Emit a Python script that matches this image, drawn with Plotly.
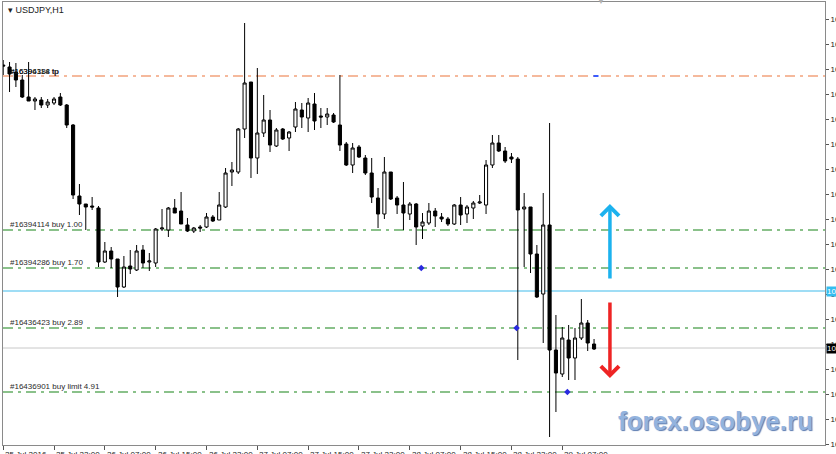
import plotly.graph_objects as go

# USDJPY H1 bars
bar_open = [106.29, 106.27, 106.22, 106.14, 105.97, 105.93, 105.94, 105.89, 105.91, 105.97,
            105.89, 105.69, 104.98, 104.90, 104.88, 104.86, 104.32, 104.43, 104.35, 104.07,
            104.28, 104.24, 104.44, 104.32, 104.31, 104.65, 104.64, 104.86, 104.83, 104.69,
            104.63, 104.67, 104.67, 104.77, 104.74, 104.87, 105.22, 105.22, 105.65, 106.12,
            105.36, 105.61, 105.74, 105.48, 105.65, 105.56, 105.67, 105.84, 105.76, 105.90,
            105.78, 105.77, 105.79, 105.69, 105.50, 105.29, 105.47, 105.36, 105.21, 104.96,
            104.80, 105.22, 104.96, 104.89, 104.80, 104.90, 104.68, 104.71, 104.83, 104.77,
            104.75, 104.70, 104.89, 104.80, 104.86, 104.91, 104.89, 105.29, 105.51, 105.43,
            105.37, 105.35, 104.85, 104.87, 104.40, 104.00, 104.69, 103.44, 103.20, 103.54,
            103.36, 103.56, 103.71, 103.50]
bar_high = [106.34, 106.32, 106.31, 106.19, 106.32, 105.97, 105.97, 105.95, 105.97, 106.01,
            105.90, 105.70, 105.10, 104.90, 104.97, 104.88, 104.52, 104.47, 104.35, 104.38,
            104.44, 104.49, 104.49, 104.41, 104.66, 104.85, 104.87, 104.95, 105.02, 104.76,
            104.67, 104.69, 104.81, 104.79, 105.02, 105.26, 105.32, 105.66, 106.71, 106.12,
            106.26, 105.99, 105.84, 105.66, 105.66, 105.63, 105.92, 105.91, 105.96, 106.01,
            105.86, 105.86, 105.81, 106.19, 105.52, 105.51, 105.49, 105.39, 105.36, 105.06,
            105.37, 105.22, 104.98, 105.12, 104.92, 104.91, 104.81, 104.91, 104.86, 104.81,
            104.77, 104.90, 104.97, 104.89, 104.93, 104.99, 105.34, 105.59, 105.59, 105.47,
            105.41, 105.37, 105.01, 104.87, 104.49, 105.01, 105.71, 103.79, 103.67, 103.69,
            103.66, 103.95, 103.74, 103.55]
bar_low = [106.19, 106.02, 106.07, 105.96, 105.93, 105.84, 105.86, 105.86, 105.89, 105.88,
           105.66, 104.95, 104.79, 104.64, 104.84, 104.27, 104.31, 104.26, 103.97, 104.06,
           104.20, 104.23, 104.26, 104.23, 104.27, 104.63, 104.57, 104.81, 104.70, 104.62,
           104.61, 104.62, 104.66, 104.72, 104.74, 104.86, 105.08, 105.20, 105.56, 105.16,
           105.20, 105.57, 105.42, 105.47, 105.54, 105.43, 105.62, 105.66, 105.62, 105.64,
           105.66, 105.69, 105.71, 105.43, 105.28, 105.21, 105.36, 105.19, 104.91, 104.66,
           104.75, 104.94, 104.80, 104.64, 104.74, 104.49, 104.55, 104.69, 104.67, 104.72,
           104.68, 104.69, 104.69, 104.71, 104.75, 104.90, 104.80, 105.26, 105.42, 105.31,
           105.31, 103.34, 104.27, 104.21, 103.96, 103.51, 102.57, 102.82, 103.17, 103.14,
           103.14, 103.54, 103.43, 103.44]
bar_close = [106.28, 106.20, 106.14, 105.97, 105.93, 105.95, 105.89, 105.92, 105.95, 105.89,
             105.69, 104.99, 104.90, 104.87, 104.87, 104.32, 104.43, 104.35, 104.07, 104.27,
             104.25, 104.43, 104.31, 104.33, 104.65, 104.66, 104.86, 104.81, 104.70, 104.63,
             104.66, 104.66, 104.77, 104.73, 104.89, 105.21, 105.24, 105.65, 106.11, 105.36,
             105.61, 105.74, 105.49, 105.64, 105.55, 105.62, 105.85, 105.77, 105.91, 105.73,
             105.77, 105.80, 105.72, 105.49, 105.29, 105.46, 105.37, 105.21, 104.97, 104.80,
             105.22, 104.95, 104.89, 104.81, 104.90, 104.67, 104.72, 104.83, 104.78, 104.75,
             104.70, 104.89, 104.79, 104.87, 104.91, 104.92, 105.29, 105.51, 105.43, 105.33,
             105.35, 104.84, 104.87, 104.40, 103.97, 104.69, 103.44, 103.21, 103.56, 103.36,
             103.56, 103.71, 103.51, 103.45]
bar_index = list(range(len(bar_open)))

time_tick_bars = [0, 8, 16, 24, 32, 40, 48, 56, 64, 72, 80, 88]
time_tick_labels = ["25 Jul 2016", "25 Jul 22:00", "26 Jul 07:00", "26 Jul 15:00",
                    "26 Jul 23:00", "27 Jul 07:00", "27 Jul 15:00", "27 Jul 23:00",
                    "28 Jul 07:00", "28 Jul 15:00", "28 Jul 23:00", "29 Jul 07:00"]

# order levels
tp_level = 106.18
tp_labels = ["#16394114 tp", "#16396388 tp"]
order_levels = [104.64, 104.26, 103.66, 103.02]
order_labels = ["#16394114 buy 1.00", "#16394286 buy 1.70",
                "#16436423 buy 2.89", "#16436901 buy limit 4.91"]
entry_bars = [65.8, 80.8, 88.8]
entry_prices = [104.26, 103.66, 103.02]
tp_mark_bars = [92.9, 93.7]
cyan_level = 104.03
bid_price = 103.46

arrow_bar = 95.5
up_arrow = (104.14, 104.90)
down_arrow = (103.93, 103.16)

FONT = "Liberation Sans"
GREEN = "#64ad64"
DASH = "10px,5px,3px,5px"

fig = go.Figure()

fig.add_trace(go.Candlestick(
    x=bar_index, open=bar_open, high=bar_high, low=bar_low, close=bar_close,
    increasing=dict(line=dict(color="black", width=1), fillcolor="white"),
    decreasing=dict(line=dict(color="black", width=1), fillcolor="black"),
    whiskerwidth=0, showlegend=False, hoverinfo="skip"
))

fig.add_trace(go.Scatter(
    x=entry_bars, y=entry_prices, mode="markers",
    marker=dict(symbol="diamond", size=5, color="#2a2ae0"),
    showlegend=False, hoverinfo="skip"
))
fig.add_trace(go.Scatter(
    x=tp_mark_bars, y=[tp_level, tp_level], mode="lines",
    line=dict(color="#3a5cff", width=2), showlegend=False, hoverinfo="skip"
))

fig.add_hline(y=tp_level, line=dict(color="#f2a27c", width=1.3, dash=DASH), layer="below")
for lvl in order_levels:
    fig.add_hline(y=lvl, line=dict(color=GREEN, width=1.3, dash=DASH), layer="below")
fig.add_hline(y=cyan_level, line=dict(color="#7fd2f2", width=1.5), layer="below")
fig.add_hline(y=bid_price, line=dict(color="#c8c8c8", width=1), layer="below")

annotations = []
for lbl in tp_labels:
    annotations.append(dict(
        x=0, xref="paper", y=tp_level, yref="y", text=lbl, showarrow=False,
        xanchor="left", yanchor="bottom", xshift=5, yshift=-2,
        font=dict(family=FONT, size=8, color="#111111")
    ))
for lvl, lbl in zip(order_levels, order_labels):
    annotations.append(dict(
        x=0, xref="paper", y=lvl, yref="y", text=lbl, showarrow=False,
        xanchor="left", yanchor="bottom", xshift=5, yshift=-1,
        font=dict(family=FONT, size=8, color="#2a2a2a")
    ))
for b, lbl in zip(time_tick_bars, time_tick_labels):
    annotations.append(dict(
        x=b, xref="x", y=0, yref="paper", text=lbl, showarrow=False,
        xanchor="left", yanchor="top", xshift=0, yshift=-3,
        font=dict(family=FONT, size=8, color="#222222")
    ))

# price boxes on the right scale
annotations.append(dict(
    x=1, xref="paper", y=cyan_level, yref="y", text=f"{cyan_level:.3f}",
    showarrow=False, xanchor="left", xshift=1, bgcolor="#35bdf0",
    font=dict(family=FONT, size=8, color="white"), borderpad=0
))
annotations.append(dict(
    x=1, xref="paper", y=bid_price, yref="y", text=f"{bid_price:.3f}",
    showarrow=False, xanchor="left", xshift=1, bgcolor="black",
    font=dict(family=FONT, size=8, color="white"), borderpad=0
))

# big trade arrows
annotations.append(dict(
    x=arrow_bar, y=up_arrow[1], ax=arrow_bar, ay=up_arrow[0], xref="x", yref="y",
    axref="x", ayref="y", showarrow=True, arrowhead=4, arrowsize=1,
    arrowwidth=3.5, arrowcolor="#1cb2ee", text=""
))
annotations.append(dict(
    x=arrow_bar, y=down_arrow[1], ax=arrow_bar, ay=down_arrow[0], xref="x", yref="y",
    axref="x", ayref="y", showarrow=True, arrowhead=4, arrowsize=1,
    arrowwidth=3.5, arrowcolor="#ee2424", text=""
))

# header and decorations
annotations.append(dict(
    x=0, xref="paper", y=1, yref="paper", text="▾ USDJPY,H1", showarrow=False,
    xanchor="left", yanchor="top", xshift=3, yshift=-1,
    font=dict(family=FONT, size=9, color="#222222")
))
annotations.append(dict(
    x=0.7275, xref="paper", y=1, yref="paper", text="▼", showarrow=False,
    xanchor="center", yanchor="middle", yshift=1,
    font=dict(family=FONT, size=8, color="#b0b0b0")
))
annotations.append(dict(
    x=0.988, xref="paper", y=0, yref="paper", text="forex.osobye.ru", showarrow=False,
    xanchor="right", yanchor="bottom", yshift=7,
    font=dict(family=FONT, size=26, color="#93b3de", weight="bold",
              shadow="1px 1px 1px #5a7ab0")
))

fig.update_layout(
    width=836, height=454,
    margin=dict(l=3, r=11, t=2, b=9, autoexpand=False),
    paper_bgcolor="white", plot_bgcolor="white",
    annotations=annotations,
    showlegend=False,
)

fig.update_xaxes(
    range=[-0.03, 129.35], rangeslider=dict(visible=False), automargin=False,
    showgrid=False, zeroline=False,
    showline=True, linecolor="#8a8a8a", linewidth=1, mirror=True,
    tickmode="array", tickvals=time_tick_bars, showticklabels=False,
    ticks="outside", ticklen=4, tickcolor="#555555"
)
fig.update_yaxes(
    side="right", range=[102.49, 106.92], automargin=False,
    tick0=102.5, dtick=0.25, tickformat=".3f",
    showgrid=False, zeroline=False,
    showline=True, linecolor="#8a8a8a", linewidth=1, mirror=True,
    ticks="outside", ticklen=3, tickcolor="#555555",
    tickfont=dict(family=FONT, size=8, color="#222222")
)

# the page body has a default 8px margin; drop it so the chart sits flush
fig.write_html("out.html", config={"displayModeBar": False},
               post_script="document.body.style.margin='0px';")
